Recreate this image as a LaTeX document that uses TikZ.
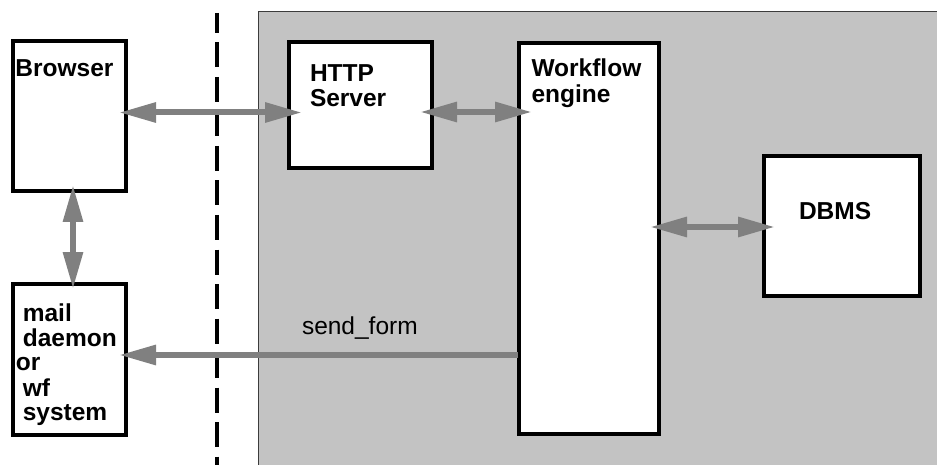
\documentclass[tikz,border=0pt]{standalone}
\usepackage{fontspec}
\setmainfont{Liberation Sans}
\usetikzlibrary{arrows.meta}
\definecolor{bggray}{RGB}{195,195,195}
\definecolor{arrgray}{RGB}{128,128,128}
\definecolor{edgegray}{RGB}{60,60,60}
\newcommand\mylines[1]{\begin{tabular}[t]{@{}l@{}}#1\end{tabular}}
\begin{document}
\begin{tikzpicture}[x=1pt,y=-1pt,
  box/.style={draw=black, line width=4pt, fill=white, rectangle, inner sep=0pt, outer sep=2pt},
  lbl/.style={anchor=base west, inner sep=0pt, outer sep=0pt, font=\fontsize{24.5}{24.75}\selectfont\bfseries},
  plainlbl/.style={anchor=base west, inner sep=0pt, outer sep=0pt, font=\fontsize{24.5}{24.75}\selectfont},
  biarr/.style={draw=arrgray, line width=6pt, {Triangle[length=37pt,width=19pt]}-{Triangle[length=37pt,width=19pt]}},
  onearr/.style={draw=arrgray, line width=6pt, -{Triangle[length=37pt,width=19pt]}},
  divider/.style={draw=black, line width=4.5pt, dash pattern=on 25pt off 9.5pt, dash phase=5pt}]
\useasboundingbox (0,0) rectangle (937,465);
% shaded server region
\fill[bggray] (258,12) rectangle (937,465);
\draw[edgegray, line width=1pt] (258,465) -- (258,12) -- (937,12);
% dashed divider
\coordinate (dtop) at (217,13);
\coordinate (dbot) at (217,465);
\draw[divider] (dtop) -- (dbot);
% boxes
\node[box, minimum width=113pt, minimum height=150pt] (browser) at (69.5,116) {};
\node[box, minimum width=113pt, minimum height=151pt] (mail) at (69.5,359.5) {};
\node[box, minimum width=143pt, minimum height=126pt] (http) at (360.5,105) {};
\node[box, minimum width=140pt, minimum height=391pt] (wf) at (589,238.5) {};
\node[box, minimum width=156pt, minimum height=140pt] (dbms) at (842,226) {};
% labels
\node[lbl] (tbrowser) at (15.5,77) {Browser};
\node[lbl] (thttp) at (310,82) {\mylines{HTTP\\Server}};
\node[lbl] (twf) at (531.5,77) {\mylines{Workflow\\engine}};
\node[lbl] (tdbms) at (799,219) {DBMS};
\node[lbl] (tmail) at (16,321) {\mylines{\ mail\\\ daemon\\or\\\ wf\\\ system}};
\node[plainlbl] (tsend) at (302,334) {send\_form};
% connectors
\draw[biarr] ([xshift=-9pt,yshift=3.5pt]browser.east) -- ([xshift=15pt,yshift=-7.5pt]http.west);
\draw[biarr] ([xshift=-14pt,yshift=-7pt]http.east) -- ([xshift=15pt,yshift=-71pt]wf.north west);
\draw[biarr] ([xshift=-11pt,yshift=11.5pt]wf.east) -- ([xshift=13pt,yshift=-1pt]dbms.west);
\draw[biarr] ([xshift=3.5pt,yshift=8pt]browser.south) -- ([xshift=3.5pt,yshift=-7pt]mail.north);
\draw[onearr] ([xshift=1pt,yshift=-116.5pt]wf.west) -- ([xshift=-9pt,yshift=4.5pt]mail.east);
\end{tikzpicture}
\end{document}
